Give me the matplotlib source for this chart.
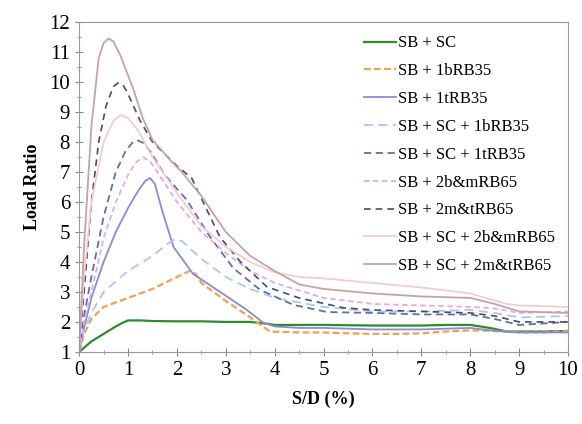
import matplotlib
matplotlib.use("Agg")
import matplotlib.pyplot as plt
from matplotlib.ticker import MultipleLocator

plt.rcParams['font.family'] = ['Liberation Serif', 'DejaVu Serif']

# values (x = S/D %, y = load ratio)
x_sc = [0, 0.25, 0.5, 0.75, 0.9, 1.0, 1.25, 1.5, 2, 2.5, 3, 3.5, 3.8, 4, 5, 6, 7, 7.5, 8, 8.4, 8.75, 9, 9.5, 10]
y_sc = [1.0, 1.35, 1.6, 1.85, 1.98, 2.05, 2.05, 2.03, 2.02, 2.02, 2.0, 2.0, 1.95, 1.9, 1.9, 1.88, 1.88, 1.9, 1.9, 1.8, 1.68, 1.68, 1.68, 1.7]

x_1b = [0, 0.1, 0.25, 0.5, 0.75, 1.0, 1.25, 1.5, 1.75, 2.0, 2.15, 2.27, 2.38, 2.5, 3, 3.5, 3.9, 4.5, 5, 5.5, 6, 6.5, 7, 7.5, 8, 8.5, 9, 9.5, 10]
y_1b = [1.0, 1.6, 2.1, 2.5, 2.65, 2.8, 2.95, 3.1, 3.3, 3.5, 3.62, 3.7, 3.6, 3.3, 2.7, 2.15, 1.68, 1.65, 1.65, 1.62, 1.6, 1.6, 1.62, 1.68, 1.72, 1.7, 1.65, 1.65, 1.7]

x_1t = [0, 0.1, 0.25, 0.5, 0.75, 1.0, 1.2, 1.35, 1.45, 1.55, 1.7, 1.93, 2.33, 2.82, 3.43, 3.77, 4, 4.5, 5, 6, 7, 8, 8.5, 9, 10]
y_1t = [1.0, 1.8, 2.8, 4.0, 5.0, 5.8, 6.35, 6.7, 6.8, 6.6, 5.7, 4.5, 3.6, 3.07, 2.4, 1.97, 1.85, 1.8, 1.8, 1.75, 1.75, 1.8, 1.7, 1.65, 1.65]

x_sc1b = [0, 0.1, 0.25, 0.5, 1.0, 1.5, 1.8, 1.95, 2.1, 2.5, 3, 3.5, 4, 5, 6, 7, 8, 8.5, 9, 10]
y_sc1b = [1.0, 1.7, 2.3, 3.0, 3.7, 4.2, 4.6, 4.75, 4.7, 4.1, 3.5, 3.1, 2.8, 2.5, 2.35, 2.35, 2.4, 2.3, 2.15, 2.2]

x_sc1t = [0, 0.1, 0.25, 0.5, 0.75, 0.95, 1.1, 1.2, 1.3, 1.45, 1.75, 2.2, 2.68, 3.15, 3.7, 4.38, 5.07, 6, 7, 8, 8.5, 9, 10]
y_sc1t = [1.0, 2.2, 3.5, 5.5, 7.0, 7.7, 8.0, 8.05, 7.98, 7.7, 6.9, 6.07, 4.83, 3.8, 3.07, 2.57, 2.33, 2.3, 2.25, 2.25, 2.1, 1.9, 2.0]

x_2bm = [0, 0.1, 0.25, 0.5, 0.75, 1.0, 1.15, 1.3, 1.45, 1.6, 2, 2.5, 3, 3.5, 4, 5, 6, 7, 8, 8.5, 9, 10]
y_2bm = [1.0, 2.0, 3.0, 4.8, 6.0, 6.9, 7.3, 7.5, 7.35, 7.0, 6.0, 5.0, 4.3, 3.7, 3.3, 2.8, 2.6, 2.55, 2.5, 2.45, 2.3, 2.35]

x_2mt = [0, 0.1, 0.25, 0.4, 0.55, 0.7, 0.8, 0.9, 1.0, 1.25, 1.5, 2, 2.3, 2.88, 3.3, 3.84, 4.5, 5.4, 6, 7, 8, 8.5, 9, 10]
y_2mt = [1.0, 3.0, 6.0, 8.0, 9.2, 9.85, 9.97, 9.9, 9.6, 8.7, 8.0, 7.2, 6.8, 4.83, 4.0, 3.17, 2.8, 2.47, 2.4, 2.35, 2.3, 2.2, 2.0, 2.0]

x_sc2bm = [0, 0.1, 0.25, 0.5, 0.7, 0.85, 1.0, 1.2, 1.5, 2, 2.5, 3, 3.5, 4, 4.5, 5, 6, 7, 8, 8.75, 9, 10]
y_sc2bm = [1.0, 3.5, 6.0, 8.0, 8.7, 8.9, 8.8, 8.4, 7.5, 6.3, 5.2, 4.5, 4.0, 3.65, 3.5, 3.45, 3.3, 3.15, 2.95, 2.6, 2.55, 2.5]

x_sc2mt = [0, 0.1, 0.25, 0.4, 0.5, 0.6, 0.7, 0.84, 1.1, 1.3, 1.5, 1.86, 2.1, 2.5, 3, 3.5, 4, 4.5, 5, 6, 7, 8, 8.5, 9, 10]
y_sc2mt = [1.0, 4.5, 8.5, 10.8, 11.3, 11.45, 11.35, 10.9, 9.8, 8.8, 8.07, 7.4, 7.0, 6.2, 5.0, 4.2, 3.7, 3.25, 3.1, 2.95, 2.85, 2.8, 2.6, 2.35, 2.3]

labels = ['SB + SC', 'SB + 1bRB35', 'SB + 1tRB35', 'SB + SC + 1bRB35', 'SB + SC + 1tRB35',
          'SB + 2b&mRB65', 'SB + 2m&tRB65', 'SB + SC + 2b&mRB65', 'SB + SC + 2m&tRB65']

fig = plt.figure(figsize=(5.82, 4.24), dpi=100)
ax = fig.add_axes([0.136, 0.170, 0.840, 0.778])

ax.plot(x_sc, y_sc, color='#2e8b2e', lw=1.6, label=labels[0])
ax.plot(x_1b, y_1b, color='#f0a050', lw=1.6, ls=(0, (3, 1.5)), label=labels[1])
ax.plot(x_1t, y_1t, color='#8a8ad8', lw=1.3, label=labels[2])
ax.plot(x_sc1b, y_sc1b, color='#a8c8f0', lw=1.3, ls=(0, (5, 3)), label=labels[3])
ax.plot(x_sc1t, y_sc1t, color='#6070a0', lw=1.3, ls=(0, (4, 2.5)), label=labels[4])
ax.plot(x_2bm, y_2bm, color='#e0a8f0', lw=1.3, ls=(0, (3, 2)), label=labels[5])
ax.plot(x_2mt, y_2mt, color='#4a4a6a', lw=1.2, ls=(0, (4, 3)), label=labels[6])
ax.plot(x_sc2bm, y_sc2bm, color='#f4c8cc', lw=1.2, label=labels[7])
ax.plot(x_sc2mt, y_sc2mt, color='#c8a0a8', lw=1.3, label=labels[8])

ax.set_xlim(0, 10)
ax.set_ylim(1, 12)
ax.xaxis.set_major_locator(MultipleLocator(1))
ax.xaxis.set_minor_locator(MultipleLocator(0.5))
ax.yaxis.set_major_locator(MultipleLocator(1))
ax.yaxis.set_minor_locator(MultipleLocator(0.5))
ax.tick_params(which='major', direction='inout', length=6, width=0.8, color='#888888', labelsize=15)
ax.tick_params(which='minor', direction='inout', length=3, width=0.6, color='#888888')
for s in ax.spines.values():
    s.set_color('#999999')
    s.set_linewidth(0.8)

ax.set_xlabel('S/D (%)', fontsize=13, fontweight='bold', labelpad=8)
ax.set_ylabel('Load Ratio', fontsize=13, fontweight='bold', labelpad=6)

ax.legend(loc='upper right', frameon=False, fontsize=12, handlelength=1.9,
          handletextpad=0.1, labelspacing=0.71, borderaxespad=0.4, borderpad=0.4)

fig.savefig('out.png', dpi=100)
